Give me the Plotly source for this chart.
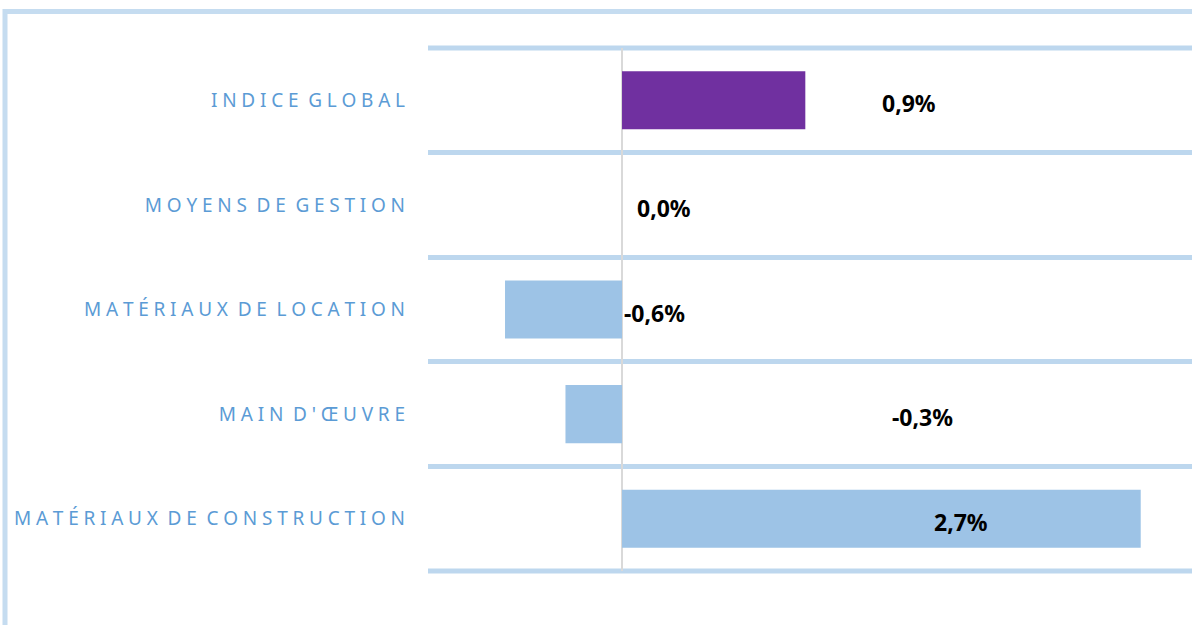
import plotly.graph_objects as go

# Data (top to bottom)
categories = ["INDICE GLOBAL", "MOYENS DE GESTION", "MATÉRIAUX DE LOCATION",
              "MAIN D'ŒUVRE", "MATÉRIAUX DE CONSTRUCTION"]
values = [0.94, 0.0, -0.60, -0.29, 2.66]
labels = ["0,9%", "0,0%", "-0,6%", "-0,3%", "2,7%"]
label_x = [1.47, 0.215, 0.165, 1.54, 1.74]
bar_colors = ["#7030A0", "#9DC3E6", "#9DC3E6", "#9DC3E6", "#9DC3E6"]

SP = "\u2005"
def spaced(s):
    return SP.join(list(s)).replace(SP + " " + SP, " " + SP)

tick_text = [spaced(c) for c in categories]

W, H = 1192, 625
L, R, T, B = 428, 0, 48, 54
fig = go.Figure()
fig.add_trace(go.Bar(
    y=categories, x=values, orientation="h",
    marker=dict(color=bar_colors, line=dict(width=0)),
    hoverinfo="skip",
))
for c, lx, t in zip(categories, label_x, labels):
    fig.add_annotation(x=lx, y=c, text=t, showarrow=False, yshift=-3,
                       xanchor="center", yanchor="middle",
                       font=dict(family="Noto Sans", size=23, color="#000000",
                                 weight="bold"))

pw = W - L - R
ph = H - T - B
def px_x(p):
    return (p - L) / pw
def px_y(p):
    return (H - B - p) / ph

shapes = [
    dict(type="line", xref="paper", yref="paper",
         x0=px_x(5), x1=px_x(1200), y0=px_y(11.5), y1=px_y(11.5),
         line=dict(color="#C5DCF0", width=5)),
    dict(type="line", xref="paper", yref="paper",
         x0=px_x(5), x1=px_x(5), y0=px_y(9), y1=px_y(640),
         line=dict(color="#C5DCF0", width=5)),
    dict(type="line", xref="paper", yref="paper", layer="below",
         x0=0, x1=1, y0=1, y1=1, line=dict(color="#BDD7EE", width=5)),
    dict(type="line", xref="paper", yref="paper", layer="below",
         x0=0, x1=1, y0=0, y1=0, line=dict(color="#BDD7EE", width=5)),
]

fig.update_layout(
    width=W, height=H,
    margin=dict(l=L, r=R, t=T, b=B, pad=0),
    paper_bgcolor="white", plot_bgcolor="white",
    showlegend=False,
    bargap=0.445,
    shapes=shapes,
    xaxis=dict(range=[-0.995, 2.923], showticklabels=False, showgrid=False,
               zeroline=True, zerolinecolor="#D9D9D9", zerolinewidth=2,
               fixedrange=True),
    yaxis=dict(categoryorder="array", categoryarray=categories,
               autorange="reversed",
               tickmode="array", tickvals=categories, ticktext=tick_text,
               tickson="boundaries", showgrid=True, gridcolor="#BDD7EE",
               gridwidth=5, ticks="", ticklabelstandoff=22,
               tickfont=dict(family="Noto Sans", size=19, color="#5B9BD5"),
               showline=False, zeroline=False, fixedrange=True),
)

fig.write_html("out.html", config={"displayModeBar": False},
               post_script="document.body.style.margin='0';document.body.style.overflow='hidden';")
